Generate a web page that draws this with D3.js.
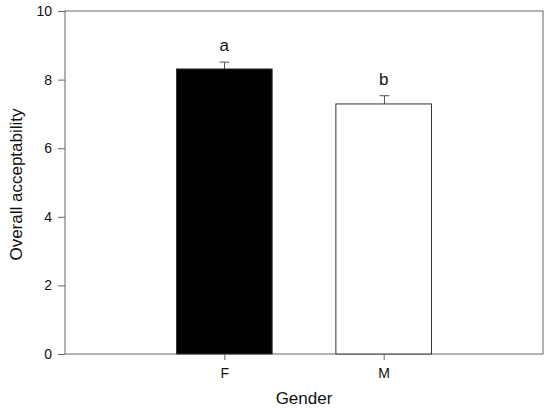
<!DOCTYPE html>
<html><head><meta charset="utf-8">
<script src="https://cdn.jsdelivr.net/npm/d3@7"></script>
<style>body{margin:0;background:#fff}svg{display:block}</style>
</head><body>
<script>
const categories = ["F", "M"];
const values = [8.31, 7.29];
const errors = [0.2, 0.24];
const letters = ["a", "b"];
const fills = ["#000000", "#ffffff"];
const yTicks = [0, 2, 4, 6, 8, 10];

const W = 550, H = 413;
const m = {left: 65, right: 7, top: 11, bottom: 59};
const svg = d3.select("body").append("svg").attr("width", W).attr("height", H);
const x = d3.scalePoint().domain(categories).range([m.left, W - m.right]).padding(1);
const y = d3.scaleLinear().domain([0, 10]).range([H - m.bottom, m.top]);
const bw = x.step() * 0.6;
const axisColor = "#666";
const font = "Arial, 'Liberation Sans', sans-serif";

// frame
svg.append("rect").attr("x", m.left).attr("y", m.top)
  .attr("width", W - m.right - m.left).attr("height", H - m.bottom - m.top)
  .attr("fill", "none").attr("stroke", axisColor).attr("stroke-width", 1);

const data = categories.map((c, i) => ({c, v: values[i], e: errors[i], l: letters[i], f: fills[i]}));

// error bars
const eb = svg.append("g").attr("stroke", "#555").attr("stroke-width", 1);
data.forEach(d => {
  const cx = Math.round(x(d.c)) + 0.5;
  eb.append("line").attr("x1", cx).attr("x2", cx).attr("y1", y(d.v)).attr("y2", y(d.v + d.e));
  eb.append("line").attr("x1", cx - 5).attr("x2", cx + 5).attr("y1", y(d.v + d.e)).attr("y2", y(d.v + d.e));
});

svg.append("g").selectAll("rect").data(data).join("rect")
  .attr("x", d => x(d.c) - bw / 2).attr("width", bw)
  .attr("y", d => y(d.v)).attr("height", d => y(0) - y(d.v))
  .attr("fill", d => d.f).attr("stroke", "#333").attr("stroke-width", 1);

svg.append("g").selectAll("text").data(data).join("text")
  .attr("x", d => x(d.c)).attr("y", d => y(d.v + d.e) - 11)
  .attr("text-anchor", "middle").attr("font-family", font).attr("font-size", 17)
  .attr("fill", "#111").text(d => d.l);

const yAxis = svg.append("g").attr("transform", `translate(${m.left},0)`)
  .call(d3.axisLeft(y).tickValues(yTicks).tickSize(7).tickPadding(6).tickFormat(d3.format("d")));
yAxis.select(".domain").remove();
yAxis.selectAll("line").attr("stroke", axisColor);
yAxis.selectAll("text").attr("font-family", font).attr("font-size", 14).attr("fill", "#111");

const xAxis = svg.append("g").attr("transform", `translate(0,${H - m.bottom})`)
  .call(d3.axisBottom(x).tickSize(6).tickPadding(8));
xAxis.select(".domain").remove();
xAxis.selectAll("line").attr("stroke", axisColor);
xAxis.selectAll("text").attr("font-family", font).attr("font-size", 14).attr("fill", "#111");

svg.append("text").attr("x", (m.left + W - m.right) / 2).attr("y", 404)
  .attr("text-anchor", "middle").attr("font-family", font).attr("font-size", 17)
  .attr("fill", "#111").text("Gender");
svg.append("text").attr("transform", `translate(22,${(m.top + H - m.bottom) / 2 + 2}) rotate(-90)`)
  .attr("text-anchor", "middle").attr("font-family", font).attr("font-size", 17)
  .attr("fill", "#111").text("Overall acceptability");
</script>
</body></html>
